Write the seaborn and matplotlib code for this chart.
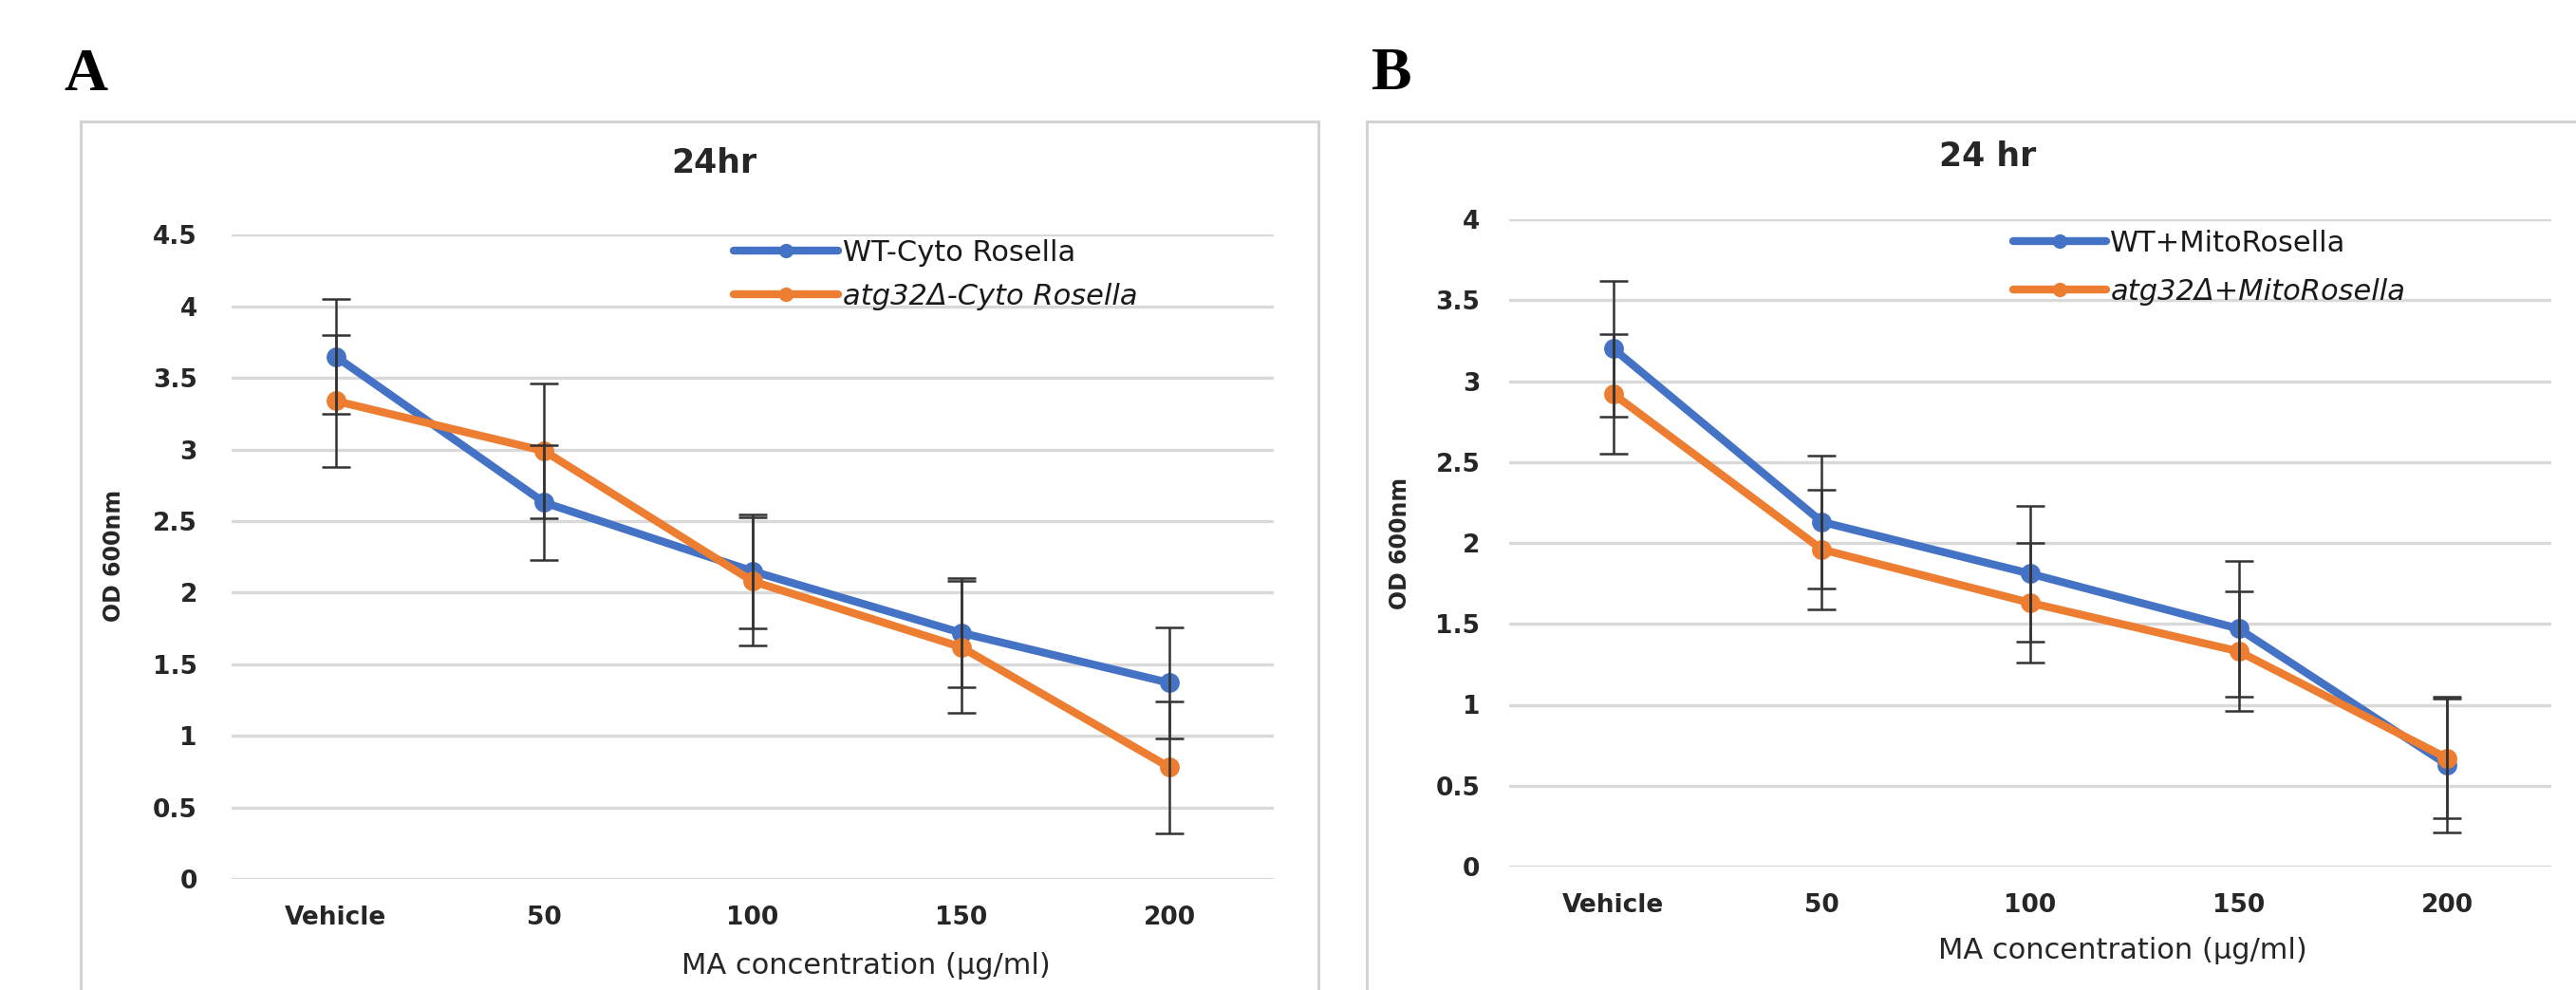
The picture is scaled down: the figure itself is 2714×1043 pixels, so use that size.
import matplotlib
matplotlib.use("Agg")
import matplotlib.pyplot as plt
from matplotlib.patches import Rectangle
from matplotlib.ticker import FuncFormatter
import seaborn as sns
import pandas as pd
import numpy as np

# ---------------- data ----------------
categories = ["Vehicle", "50", "100", "150", "200"]

a_title = "24hr"
a_labels = ["WT-Cyto Rosella", "atg32Δ-Cyto Rosella"]
a_wt = [3.65, 2.63, 2.15, 1.72, 1.37]
a_wt_err = [0.40, 0.40, 0.40, 0.38, 0.39]
a_atg = [3.34, 2.99, 2.08, 1.62, 0.78]
a_atg_err = [0.46, 0.47, 0.45, 0.46, 0.46]
a_yticks = [0, 0.5, 1, 1.5, 2, 2.5, 3, 3.5, 4, 4.5]

b_title = "24 hr"
b_labels = ["WT+MitoRosella", "atg32Δ+MitoRosella"]
b_wt = [3.20, 2.13, 1.81, 1.47, 0.63]
b_wt_err = [0.42, 0.41, 0.42, 0.42, 0.42]
b_atg = [2.92, 1.96, 1.63, 1.33, 0.67]
b_atg_err = [0.37, 0.37, 0.37, 0.37, 0.37]
b_yticks = [0, 0.5, 1, 1.5, 2, 2.5, 3, 3.5, 4]

xlabel = "MA concentration (µg/ml)"
ylabel = "OD 600nm"

# ---------------- style ----------------
sns.set_theme(style="white")
plt.rcParams["font.family"] = ["DejaVu Sans"]

BLUE = "#4472C4"
ORANGE = "#ED7D31"
TXT = "#262626"
W, H = 2714, 1043

fig = plt.figure(figsize=(W / 100, H / 100), dpi=100)

# panel frames
fig.patches.append(Rectangle((85 / W, -0.1), (1389 - 85) / W, 1.1 - 128 / H,
                             transform=fig.transFigure, fill=False, ec="#d3d3d3", lw=2.2))
fig.patches.append(Rectangle((1440 / W, -0.1), 1.2, 1.1 - 128 / H,
                             transform=fig.transFigure, fill=False, ec="#d3d3d3", lw=2.2))

axA = fig.add_axes([244 / W, 1 - 926 / H, 1098 / W, (926 - 247.5) / H])
axB = fig.add_axes([1590 / W, 1 - 913 / H, 1098 / W, (913 - 231) / H])


def fpos(px, py):
    return (px / W, 1 - py / H)


def panel(ax, title, title_px, labels, wt, wt_err, atg, atg_err, yticks,
          legend_px, hlen, lspace, ypad, ylab_px, xlab_px):
    x = np.arange(len(categories))
    df = pd.DataFrame({
        "x": np.concatenate([x, x]),
        "y": wt + atg,
        "series": [labels[0]] * len(x) + [labels[1]] * len(x),
    })
    sns.lineplot(data=df, x="x", y="y", hue="series", palette=[BLUE, ORANGE],
                 marker="o", markersize=15, markeredgewidth=0, linewidth=6,
                 ax=ax, legend=True, zorder=3)
    for vals, errs in ((wt, wt_err), (atg, atg_err)):
        ax.errorbar(x, vals, yerr=errs, fmt="none", ecolor="#333333", elinewidth=1.8,
                    capsize=11, capthick=1.8, zorder=5)

    ax.set_xlim(-0.5, len(categories) - 0.5)
    ax.set_ylim(0, yticks[-1])
    ax.set_yticks(yticks)
    ax.yaxis.set_major_formatter(FuncFormatter(lambda v, p: f"{v:g}"))
    ax.set_xticks(x)
    ax.set_xticklabels(categories)
    ax.grid(axis="y", color="#d9d9d9", lw=2.4)
    ax.grid(axis="x", visible=False)
    for s in ax.spines.values():
        s.set_visible(False)
    ax.tick_params(axis="both", length=0)
    ax.tick_params(axis="y", pad=ypad, labelsize=19, labelcolor=TXT)
    ax.tick_params(axis="x", pad=20, labelsize=19, labelcolor=TXT)
    for t in ax.get_xticklabels() + ax.get_yticklabels():
        t.set_fontweight("bold")
    ax.set_xlabel("")
    ax.set_ylabel("")

    # axis titles at measured positions
    fig.text(*fpos(*xlab_px), xlabel, fontsize=22, color=TXT, ha="center", va="center")
    fig.text(*fpos(*ylab_px), ylabel, fontsize=17, color=TXT, fontweight="bold",
             rotation=90, ha="center", va="center")
    fig.text(*fpos(*title_px), title, fontsize=25, fontweight="bold", color=TXT,
             ha="center", va="center")

    leg = ax.legend(loc="upper left", bbox_to_anchor=fpos(*legend_px),
                    bbox_transform=fig.transFigure, frameon=False,
                    fontsize=22, handlelength=hlen, handletextpad=0.15,
                    labelspacing=lspace, borderaxespad=0, borderpad=0)
    for line in leg.get_lines():
        line.set_linewidth(6)
        line.set_markersize(11)
    texts = leg.get_texts()
    texts[1].set_fontstyle("italic")
    for t in texts:
        t.set_color("#1a1a1a")


panel(axA, a_title, (752, 172), a_labels, a_wt, a_wt_err, a_atg, a_atg_err,
      a_yticks, (773, 252), 3.6, 0.55, 26, (120, 585), (912, 1018))
panel(axB, b_title, (2094, 165), b_labels, b_wt, b_wt_err, b_atg, b_atg_err,
      b_yticks, (2121, 242), 3.2, 0.72, 22, (1475, 572), (2236, 1001))

fig.text(67 / W, 1 - 95 / H, "A", fontsize=46, fontweight="bold",
         family="Liberation Serif", color="black")
fig.text(1445 / W, 1 - 94 / H, "B", fontsize=46, fontweight="bold",
         family="Liberation Serif", color="black")

fig.savefig("out.png", dpi=100, facecolor="white")
